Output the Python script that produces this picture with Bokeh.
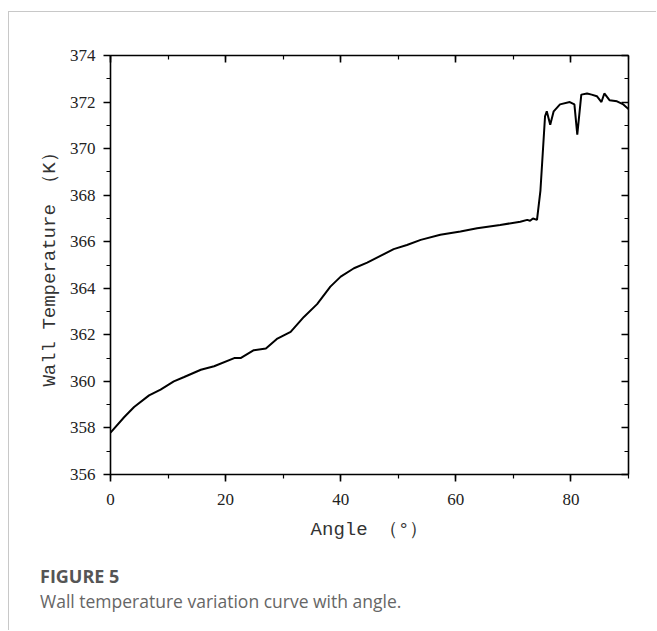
from bokeh.plotting import figure
from bokeh.models import (Range1d, LinearAxis, SingleIntervalTicker, Div,
                          CustomJSTickFormatter)
from bokeh.layouts import column
from bokeh.embed import file_html
from bokeh.resources import INLINE

# Data
angle = [0, 2.4, 4.1, 6.7, 8.7, 11.0, 12.8, 15.7, 18.0, 21.5, 22.6, 24.9, 27.0,
         29.0, 31.3, 33.6, 35.9, 38.2, 40.0, 42.3, 44.6, 46.9, 49.2, 51.5, 53.9,
         57.3, 60.8, 63.7, 67.7, 71.2, 72.4, 72.9, 73.4, 74.1, 74.7, 75.5, 75.8,
         76.4, 77.0, 78.1, 79.8, 80.6, 81.1, 81.8, 82.8, 83.6, 84.5, 85.3, 85.8,
         86.7, 88.0, 89.1, 90.0]
temperature = [357.8, 358.47, 358.9, 359.4, 359.65, 360.0, 360.19, 360.5, 360.65,
               361.0, 361.0, 361.34, 361.41, 361.84, 362.13, 362.77, 363.32, 364.07,
               364.5, 364.86, 365.1, 365.39, 365.68, 365.86, 366.08, 366.3, 366.44,
               366.58, 366.72, 366.86, 366.94, 366.9, 367.0, 366.94, 368.2, 371.39,
               371.6, 371.03, 371.6, 371.9, 372.0, 371.9, 370.6, 372.32, 372.37,
               372.32, 372.25, 372.0, 372.37, 372.08, 372.03, 371.9, 371.7]

x_label = "Angle （°）"
y_label = "Wall Temperature （K）"
fig_title = "FIGURE 5"
fig_caption = "Wall temperature variation curve with angle."

W = 647
p = figure(width=W, height=536, output_backend="svg", toolbar_location=None,
           x_range=Range1d(0, 90), y_range=Range1d(356, 374),
           min_border_left=101, min_border_top=43, min_border_right=28,
           min_border_bottom=74, x_axis_location=None, y_axis_location=None)
p.grid.visible = False
p.outline_line_color = None
p.background_fill_color = "white"
p.border_fill_color = "white"

tick_font = "Liberation Serif"
label_font = "Liberation Mono"

def style(ax, labels=True, inward=False):
    ax.axis_line_color = "black"
    ax.axis_line_width = 1.6
    ax.major_tick_line_color = "black"
    ax.minor_tick_line_color = "black"
    ax.major_tick_line_width = 1.6
    ax.minor_tick_line_width = 1.2
    if inward:
        ax.major_tick_in, ax.major_tick_out = 7, 0
        ax.minor_tick_in, ax.minor_tick_out = 4, 0
    else:
        ax.major_tick_in, ax.major_tick_out = 0, 7
        ax.minor_tick_in, ax.minor_tick_out = 0, 4
    if labels:
        ax.major_label_text_font = tick_font
        ax.major_label_text_font_size = "17px"
        ax.major_label_text_color = "#222222"
        ax.axis_label_text_font = label_font
        ax.axis_label_text_font_size = "19px"
        ax.axis_label_text_font_style = "normal"
        ax.axis_label_text_color = "#333333"
    else:
        ax.formatter = CustomJSTickFormatter(code="return ''")

bottom = LinearAxis(ticker=SingleIntervalTicker(interval=20, num_minor_ticks=2), axis_label=x_label)
style(bottom)
bottom.major_label_standoff = 12
bottom.axis_label_standoff = 11
p.add_layout(bottom, "below")

left = LinearAxis(ticker=SingleIntervalTicker(interval=2, num_minor_ticks=2), axis_label=y_label)
style(left)
left.major_label_standoff = 8
left.axis_label_standoff = 6
p.add_layout(left, "left")

top = LinearAxis(ticker=SingleIntervalTicker(interval=20, num_minor_ticks=2))
style(top, labels=False, inward=True)
p.add_layout(top, "above")

right = LinearAxis(ticker=SingleIntervalTicker(interval=2, num_minor_ticks=2))
style(right, labels=False, inward=True)
p.add_layout(right, "right")

p.line(angle, temperature, line_color="black", line_width=2)

cap_html = (
    '<div style="padding:16px 0 0 31px;font-family:\'Open Sans\',sans-serif;">'
    f'<div style="font-weight:700;font-size:18px;line-height:24px;color:#555555;margin:0;">{fig_title}</div>'
    f'<div style="font-size:17.5px;line-height:24px;color:#666666;margin:1px 0 0 0;">{fig_caption}</div>'
    '</div>'
)
cap = Div(text=cap_html, width=W, height=82,
          styles={"margin": "0", "padding": "0"})

page = column(p, cap, spacing=0,
              styles={"margin-left": "8px", "margin-top": "11px",
                      "border-top": "1px solid #c8c8c8",
                      "border-left": "1px solid #c8c8c8"})

open("out.html", "w").write(file_html(page, INLINE))
